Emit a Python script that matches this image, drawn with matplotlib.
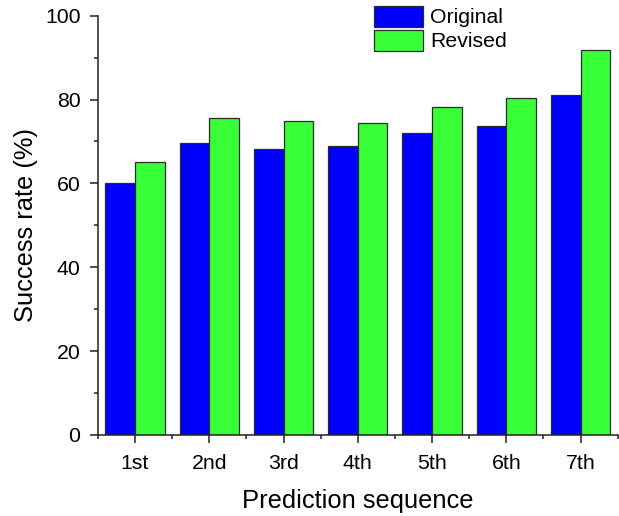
import matplotlib
matplotlib.use("Agg")
import matplotlib.pyplot as plt
import numpy as np
from matplotlib.ticker import MultipleLocator, FixedLocator

plt.rcParams['font.family'] = ['Liberation Sans', 'DejaVu Sans']

# Data
categories = ["1st", "2nd", "3rd", "4th", "5th", "6th", "7th"]
original = [60.0, 69.6, 68.3, 69.0, 72.0, 73.8, 81.0]
revised = [65.2, 75.7, 74.8, 74.4, 78.3, 80.3, 91.7]

fig = plt.figure(figsize=(6.19, 5.16), dpi=100)
ax = fig.add_axes([0.158, 0.157, 0.84, 0.8126])

x = np.arange(1, len(categories) + 1)
w = 0.4
ax.bar(x - w/2, original, w, color="#0000FF", edgecolor="#2a2a2a", linewidth=0.9, label="Original")
ax.bar(x + w/2, revised, w, color="#38FF38", edgecolor="#2a2a2a", linewidth=0.9, label="Revised")

ax.set_xlim(0.5, 7.5)
ax.set_ylim(0, 100)
ax.set_xticks(x)
ax.set_xticklabels(categories)
ax.xaxis.set_minor_locator(FixedLocator(np.arange(0.5, 8, 1)))
ax.yaxis.set_major_locator(MultipleLocator(20))
ax.yaxis.set_minor_locator(MultipleLocator(10))

# only left and bottom axes
ax.spines['top'].set_visible(False)
ax.spines['right'].set_visible(False)
for s in ['left', 'bottom']:
    ax.spines[s].set_linewidth(1.1)
    ax.spines[s].set_color("#222222")

ax.tick_params(axis='both', which='major', direction='out', length=5.5, width=1.1,
               color="#222222", labelsize=15.3, pad=7)
ax.tick_params(axis='both', which='minor', direction='out', length=3, width=1.1,
               color="#222222")
ax.tick_params(axis='x', which='major', pad=8)

ax.set_xlabel("Prediction sequence", fontsize=18.4, labelpad=12)
ax.set_ylabel("Success rate (%)", fontsize=18.4, labelpad=5)

ax.legend(loc='upper left', bbox_to_anchor=(0.604, 0.989), bbox_transform=fig.transFigure,
          frameon=False, fontsize=15.3, handlelength=2.3, handleheight=1.14,
          labelspacing=0.11, handletextpad=0.33, borderpad=0, borderaxespad=0)

fig.savefig("out.png", dpi=100)
